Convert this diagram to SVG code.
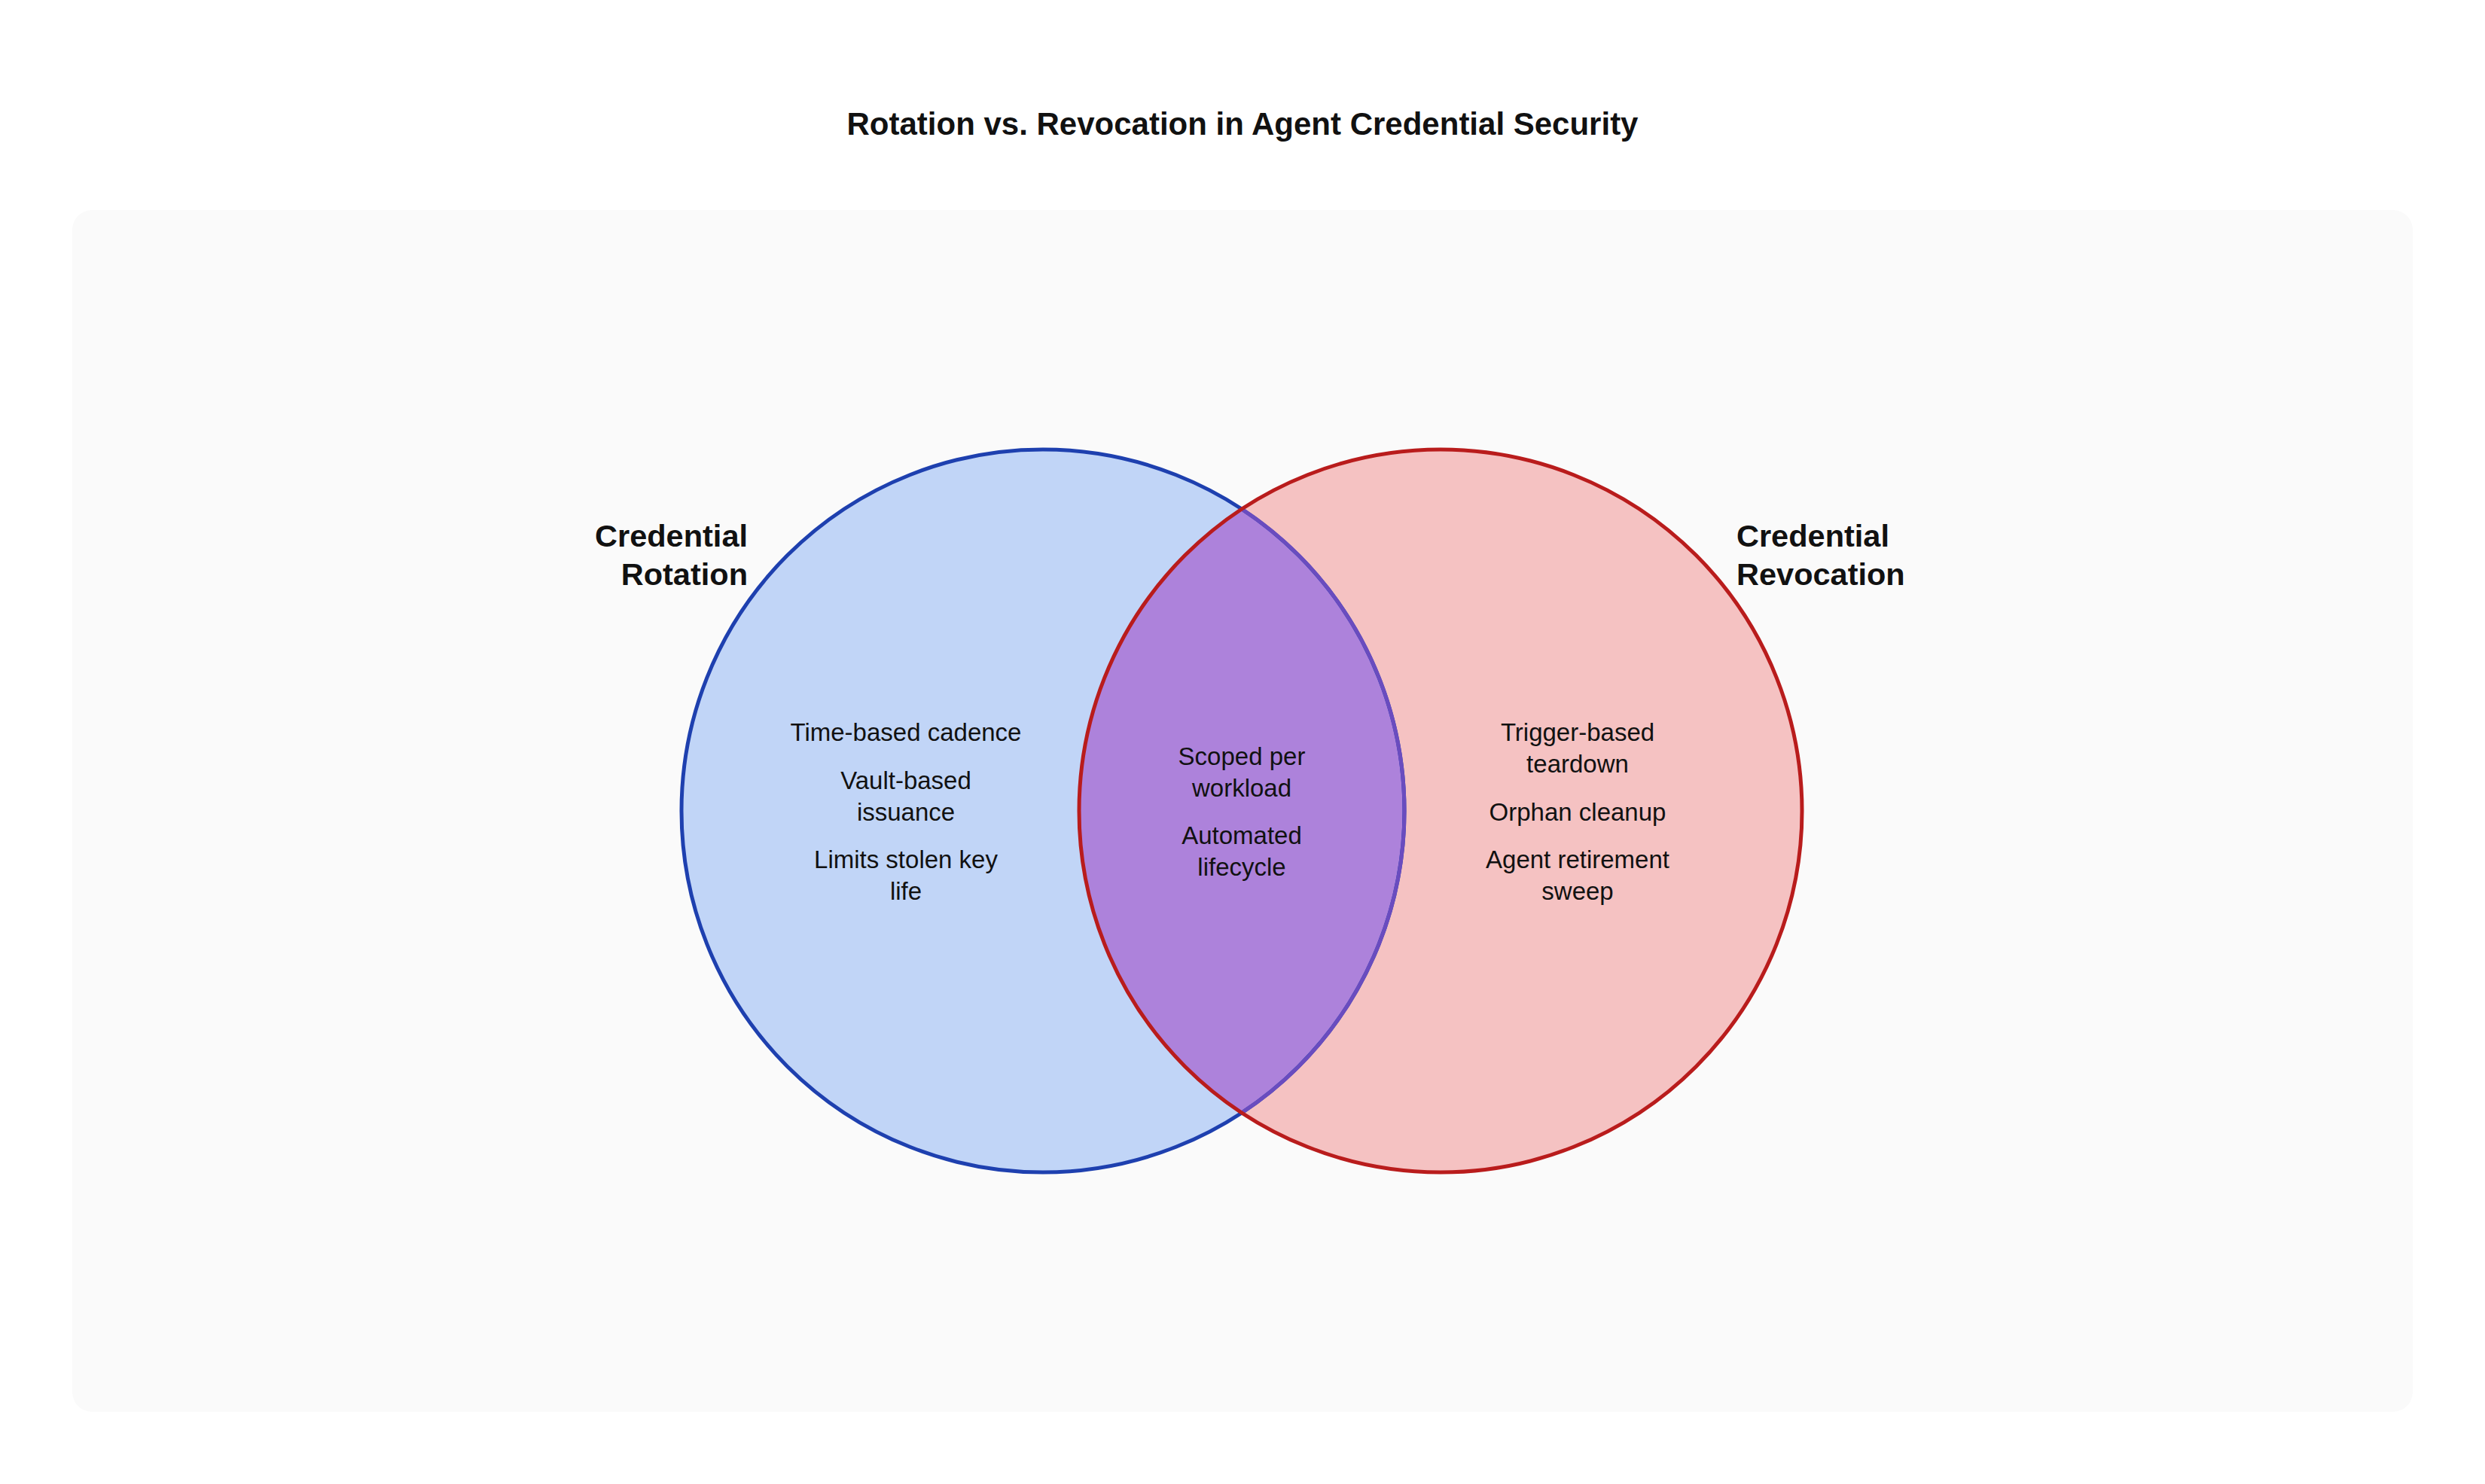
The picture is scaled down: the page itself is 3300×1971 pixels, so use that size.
<svg xmlns="http://www.w3.org/2000/svg" width="3300" height="1971" viewBox="0 0 3300 1971">
<style>
text{font-family:"Liberation Sans",Arial,sans-serif;fill:#111111}
.title{font-size:42px;font-weight:bold;text-anchor:middle}
.set{font-size:41.5px;font-weight:bold}
.item{font-size:33px;text-anchor:middle}
</style>
<rect x="0" y="0" width="3300" height="1971" fill="#ffffff"/>
<rect x="96" y="279" width="3108" height="1596" rx="26" ry="26" fill="#fafafa"/>
<text class="title" x="1650" y="179">Rotation vs. Revocation in Agent Credential Security</text>
<g id="set-rotation">
<circle cx="1385" cy="1077" r="480" fill="#c1d5f7"/>
</g>
<g id="set-revocation">
<circle cx="1913" cy="1077" r="480" fill="#f5c2c2"/>
</g>
<g id="intersection">
<path d="M1649 676.1 A480 480 0 0 1 1649 1477.9 A480 480 0 0 1 1649 676.1 Z" fill="#ad82db"/>
</g>
<g id="outlines" fill="none" stroke-width="5">
<circle cx="1385" cy="1077" r="480" stroke="#1e40af"/>
<path d="M1649 676.1 A480 480 0 0 1 1649 1477.9" stroke="#6a4cbf"/>
<circle cx="1913" cy="1077" r="480" stroke="#b91c1c"/>
</g>
<g id="label-rotation">
<text class="set" x="993" y="726" text-anchor="end">Credential</text>
<text class="set" x="993" y="777" text-anchor="end">Rotation</text>
</g>
<g id="label-revocation">
<text class="set" x="2306" y="726">Credential</text>
<text class="set" x="2306" y="777">Revocation</text>
</g>
<g id="items-rotation">
<text class="item" x="1203" y="984">Time-based cadence</text>
<text class="item" x="1203" y="1048">Vault-based</text>
<text class="item" x="1203" y="1089.5">issuance</text>
<text class="item" x="1203" y="1153">Limits stolen key</text>
<text class="item" x="1203" y="1194.5">life</text>
</g>
<g id="items-both">
<text class="item" x="1649" y="1016">Scoped per</text>
<text class="item" x="1649" y="1058">workload</text>
<text class="item" x="1649" y="1121">Automated</text>
<text class="item" x="1649" y="1163">lifecycle</text>
</g>
<g id="items-revocation">
<text class="item" x="2095" y="984">Trigger-based</text>
<text class="item" x="2095" y="1026">teardown</text>
<text class="item" x="2095" y="1089.5">Orphan cleanup</text>
<text class="item" x="2095" y="1153">Agent retirement</text>
<text class="item" x="2095" y="1194.5">sweep</text>
</g>
</svg>
